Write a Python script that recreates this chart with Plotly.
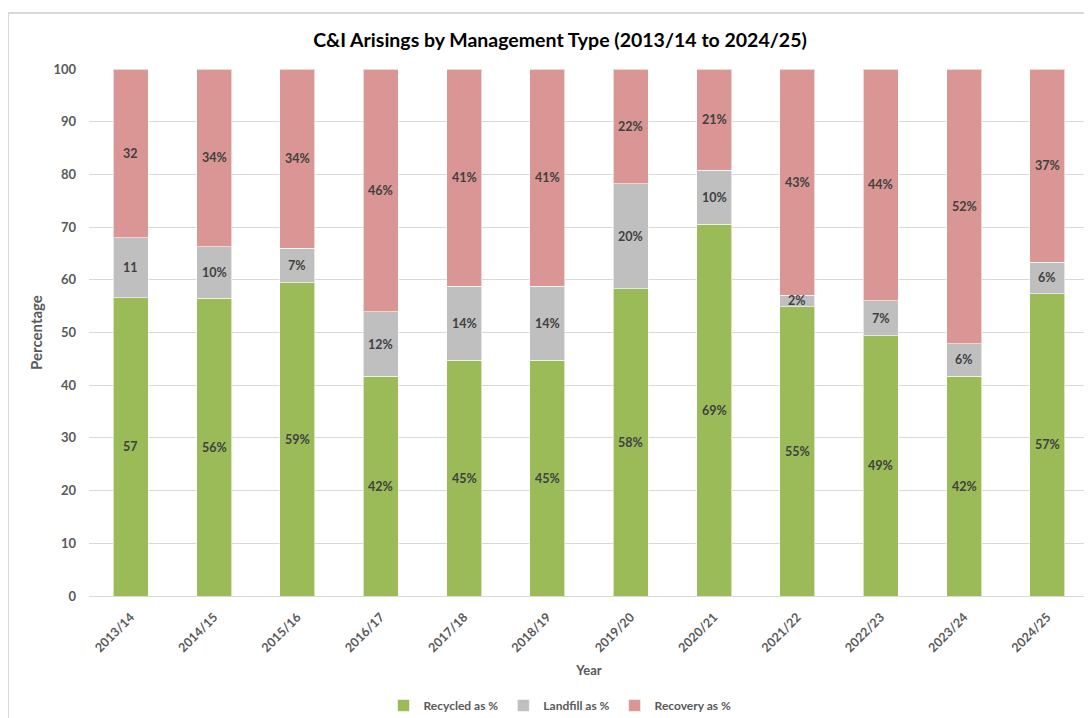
import plotly.graph_objects as go

years = ["2013/14", "2014/15", "2015/16", "2016/17", "2017/18", "2018/19",
         "2019/20", "2020/21", "2021/22", "2022/23", "2023/24", "2024/25"]

recycled = [56.6, 56.5, 59.4, 41.7, 44.7, 44.7, 58.3, 70.5, 54.9, 49.4, 41.7, 57.4]
landfill = [11.4, 9.8, 6.6, 12.2, 14.1, 14.1, 19.9, 10.3, 2.2, 6.6, 6.2, 5.9]
recovery = [32.0, 33.7, 34.0, 46.1, 41.2, 41.2, 21.8, 19.2, 42.9, 44.0, 52.1, 36.7]

recycled_labels = ["57", "56%", "59%", "42%", "45%", "45%", "58%", "69%", "55%", "49%", "42%", "57%"]
landfill_labels = ["11", "10%", "7%", "12%", "14%", "14%", "20%", "10%", "2%", "7%", "6%", "6%"]
recovery_labels = ["32", "34%", "34%", "46%", "41%", "41%", "22%", "21%", "43%", "44%", "52%", "37%"]

FONT = "Lato"
LABEL_COL = "#404040"
AXIS_COL = "#595959"

# page body has an 8px margin, so the figure is sized to fit inside the viewport
W, H = 1084, 710
L, T, PW = 81, 61, 1000
PH = 527.5
R = W - L - PW
B = H - T - PH

series = [
    ("Recycled as %", recycled, recycled_labels, "#9BBB59"),
    ("Landfill as %", landfill, landfill_labels, "#BFBFBF"),
    ("Recovery as %", recovery, recovery_labels, "#DA9694"),
]

fig = go.Figure()
annotations = []
base = [0.0] * len(years)
for name, vals, labels, color in series:
    fig.add_trace(go.Bar(
        x=years, y=vals, name=name,
        marker=dict(color=color, line=dict(color="rgba(255,255,255,0.6)", width=1)),
        hoverinfo="skip",
    ))
    for i, (yr, v, lab) in enumerate(zip(years, vals, labels)):
        annotations.append(dict(
            x=yr, y=base[i] + v / 2, xref="x", yref="y", text=lab,
            showarrow=False, xanchor="center", yanchor="middle",
            font=dict(family=FONT, size=12.5, color=LABEL_COL, weight="bold"),
        ))
        base[i] += v

fig.update_layout(
    barmode="stack",
    bargap=0.58,
    width=W, height=H,
    margin=dict(l=L, r=R, t=T, b=B, autoexpand=False),
    paper_bgcolor="white", plot_bgcolor="white",
    font=dict(family=FONT, color=AXIS_COL),
    title=dict(
        text="C&I Arisings by Management Type (2013/14 to 2024/25)",
        font=dict(family=FONT, size=19.5, color="#000000", weight="bold"),
        x=(552 - L) / PW, xref="paper", xanchor="center",
        y=1 - 32 / H, yref="container", yanchor="middle",
    ),
    showlegend=True,
    legend=dict(
        orientation="h", x=(552 - L) / PW, xanchor="center",
        y=-(698 - (T + PH)) / PH, yanchor="middle",
        font=dict(family=FONT, size=12, color=AXIS_COL, weight="bold"),
        traceorder="normal", itemwidth=30,
    ),
    annotations=annotations,
    xaxis=dict(
        title=dict(text="Year", font=dict(family=FONT, size=13, color=AXIS_COL, weight="bold"), standoff=11),
        tickangle=-45,
        tickfont=dict(family=FONT, size=12.5, color=AXIS_COL, weight="bold"),
        ticklabelstandoff=8,
        showline=True, linecolor="#d9d9d9", linewidth=1,
        showgrid=False, ticks="", automargin=False,
    ),
    yaxis=dict(
        title=dict(text="Percentage", font=dict(family=FONT, size=15, color=AXIS_COL, weight="bold"), standoff=7),
        range=[0, 100], dtick=10,
        tickfont=dict(family=FONT, size=13, color=AXIS_COL, weight="bold"),
        gridcolor="#d9d9d9", gridwidth=1,
        zeroline=False, showline=False, ticks="",
        ticklabelstandoff=12, automargin=False,
    ),
    shapes=[dict(
        type="rect", xref="paper", yref="paper",
        x0=(0 - L) / PW, x1=1.02,
        y0=-0.3, y1=(T + PH - 5) / PH,
        line=dict(color="#d9d9d9", width=2), fillcolor="rgba(0,0,0,0)", layer="below",
    )],
)

fig.write_html("out.html")
